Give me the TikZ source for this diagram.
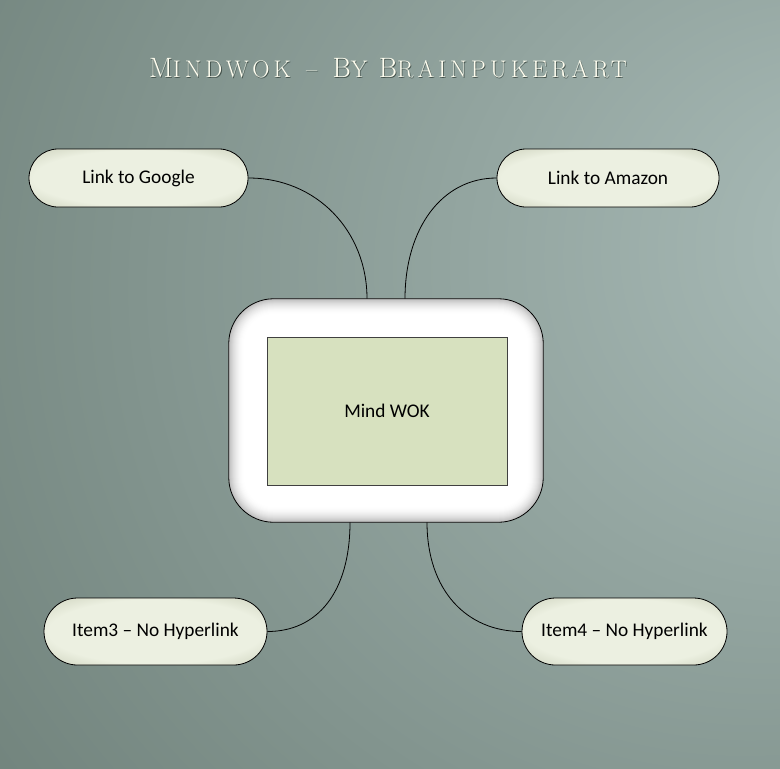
\documentclass[tikz,border=0pt]{standalone}
\usepackage{fontspec}
\newfontfamily\calfont{Carlito}
\newfontfamily\titlefont[LetterSpace=17]{Latin Modern Roman}
\usetikzlibrary{calc,shapes.misc}
\definecolor{bgdark}{RGB}{96,114,106}
\definecolor{bglight}{RGB}{164,182,178}
\definecolor{pillin}{RGB}{236,240,225}
\definecolor{pillout}{RGB}{168,174,146}
\definecolor{wokfill}{RGB}{215,225,191}
\definecolor{titleshadow}{RGB}{70,84,78}
\pgfdeclareradialshading{bgglow}{\pgfpoint{33bp}{10bp}}{color(0bp)=(bglight); color(6bp)=(bglight); color(68bp)=(bgdark); color(100bp)=(bgdark)}
\pgfdeclareradialshading{pillglow}{\pgfpoint{0bp}{0bp}}{color(0bp)=(pillin); color(24bp)=(pillin); color(50bp)=(pillout); color(100bp)=(pillout)}
\tikzset{
  pill/.style={shape=rounded rectangle, draw=black, line width=0.6pt, shading=pillglow,
    font=\calfont\fontsize{14.5}{17}\selectfont, minimum height=43.5pt, inner sep=0pt},
  link/.style={draw=black, line width=0.6pt},
  titletype/.style={font=\titlefont\fontsize{18}{24}\selectfont},
}
\newcommand\titletext{{\fontsize{21}{24}\selectfont M}INDWOK \,–\, {\fontsize{21}{24}\selectfont B}Y {\fontsize{21}{24}\selectfont B}RAINPUKERART}
\begin{document}
\begin{tikzpicture}[x=0.75pt,y=0.75pt,yscale=-1,xscale=1]
%background
\shade[shading=bgglow] (0,0) rectangle (780,768);
%title
\node [titletype, text=titleshadow] (titleback) at (388.8,68.8) {\titletext};
\node [titletype, text=white!94!yellow] (title) at (388,68) {\titletext};
%outer box
\path (386,410.5) node [minimum width=235.5pt, minimum height=167.25pt, inner sep=0pt] (wok) {};
\fill[white, rounded corners=33.75pt] (wok.south west) rectangle (wok.north east);
\foreach \i in {0,...,15}{
  \pgfmathsetmacro\p{26*(1-\i/16)^2}
  \pgfmathsetmacro\r{33.75-0.75*\i}
  \fill[black!\p!white, rounded corners=\r pt] ($(wok.south west)+(\i,-\i)$) rectangle ($(wok.north east)+(-\i,\i)$);
}
\fill[white, rounded corners=21.75pt] ($(wok.south west)+(16,-16)$) rectangle ($(wok.north east)+(-16,16)$);
\draw[line width=0.6pt, rounded corners=33.75pt] (wok.south west) rectangle (wok.north east);
\node [draw=black!75, line width=0.6pt, fill=wokfill, minimum width=180pt, minimum height=111pt, font=\calfont\fontsize{14.5}{17}\selectfont] (inner) at (387,411) {Mind WOK};
%leaves
\node [pill, minimum width=164.25pt] (google) at (138.5,178) {Link to Google};
\node [pill, minimum width=166.5pt] (amazon) at (608,178) {Link to Amazon};
\node [pill, minimum width=167.25pt, minimum height=50.25pt] (item3) at (155.5,631.5) {Item3 – No Hyperlink};
\node [pill, minimum width=153.75pt, minimum height=50.25pt] (item4) at (624.5,631.5) {Item4 – No Hyperlink};
%connectors
\draw[link] (google.east) .. controls +(68,0) and +(0,-68) .. ([xshift=-14.25pt]wok.north);
\draw[link] (amazon.west) .. controls +(-55,0) and +(0,-70) .. ([xshift=14.25pt]wok.north);
\draw[link] ([xshift=-27pt]wok.south) .. controls +(0,70) and +(50,0) .. (item3.east);
\draw[link] ([xshift=30.75pt]wok.south) .. controls +(0,68) and +(-55,0) .. (item4.west);
\end{tikzpicture}
\end{document}
